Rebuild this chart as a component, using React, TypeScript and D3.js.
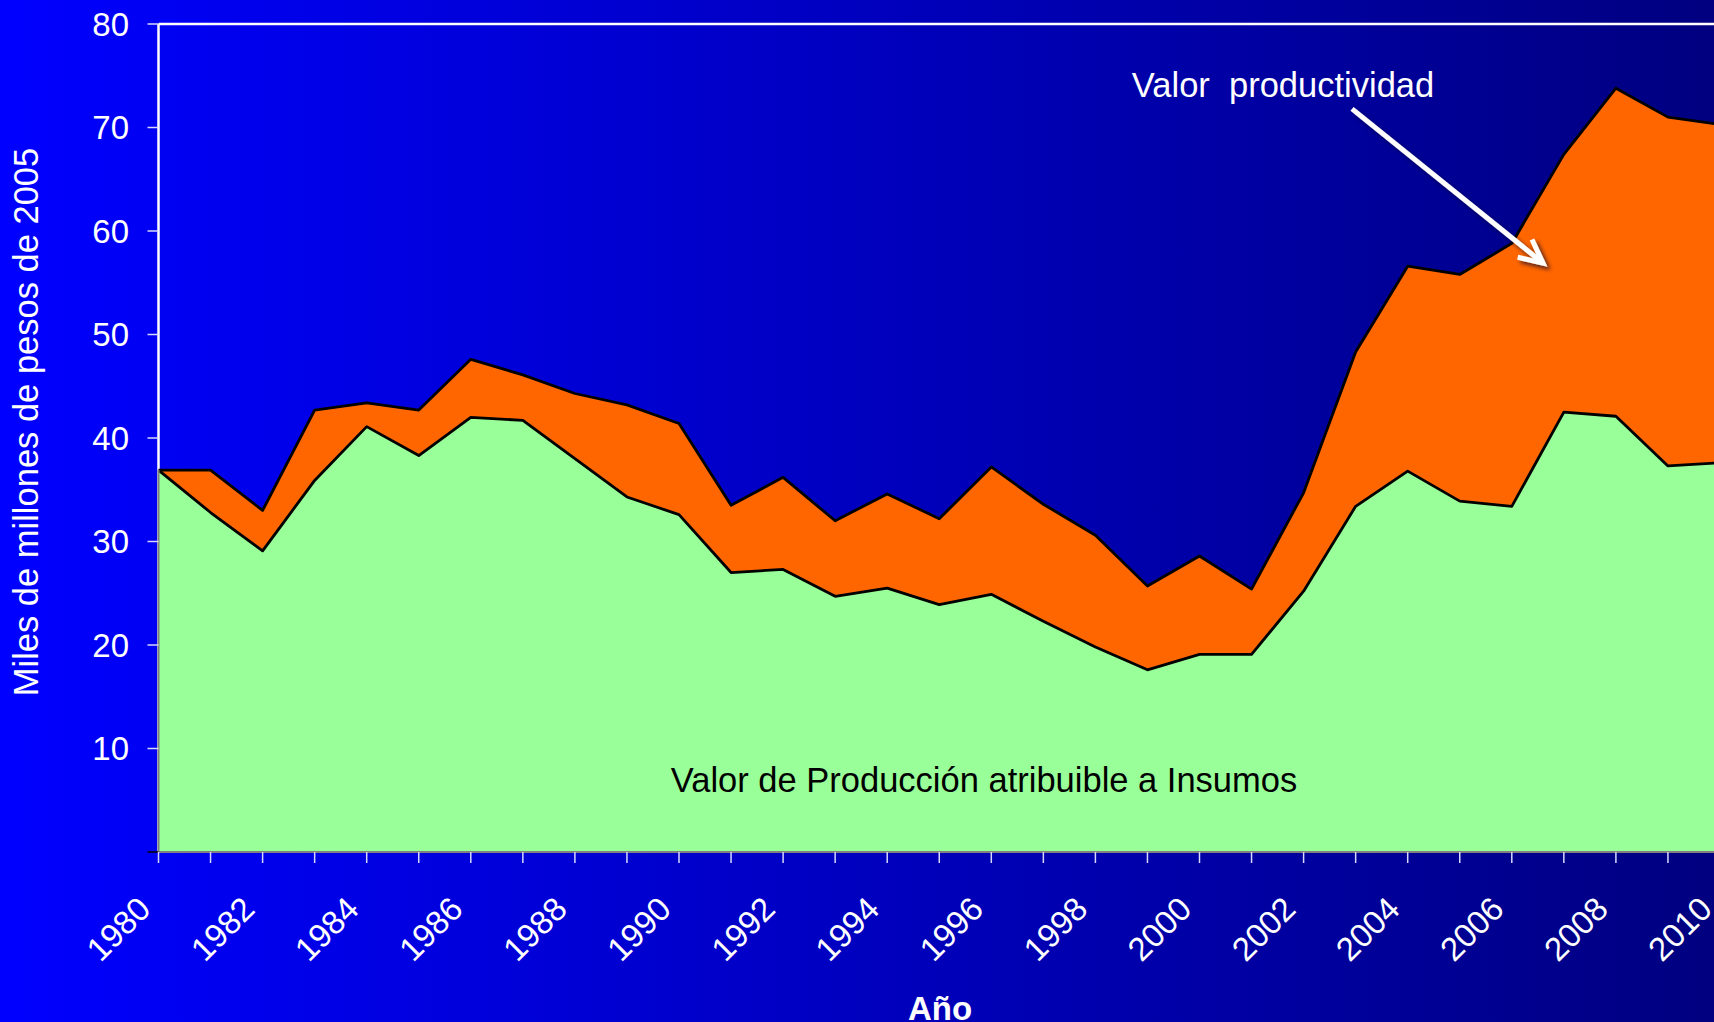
import React, { useEffect, useRef } from 'react';
import * as d3 from 'd3';

const years = [
  1980, 1981, 1982, 1983, 1984, 1985, 1986, 1987, 1988, 1989, 1990,
  1991, 1992, 1993, 1994, 1995, 1996, 1997, 1998, 1999, 2000,
  2001, 2002, 2003, 2004, 2005, 2006, 2007, 2008, 2009, 2010,
];

// Valor de producción atribuible a insumos (miles de millones)
const insumos = [
  36.9, 32.8, 29.1, 35.9, 41.1, 38.3, 42.0, 41.7, 38.0, 34.3, 32.6,
  27.0, 27.3, 24.7, 25.5, 23.9, 24.9, 22.3, 19.8, 17.6, 19.1,
  19.1, 25.2, 33.4, 36.8, 33.9, 33.4, 42.5, 42.1, 37.3, 37.6,
];

// Valor productividad (banda naranja, encima de insumos)
const productividad = [
  0.0, 4.1, 3.9, 6.8, 2.3, 4.4, 5.6, 4.4, 6.3, 8.9, 8.8,
  6.5, 8.9, 7.3, 9.1, 8.3, 12.3, 11.3, 10.8, 8.1, 9.5,
  6.3, 9.5, 14.9, 19.8, 21.9, 25.4, 24.9, 31.7, 33.7, 32.7,
];

const yTicks = [10, 20, 30, 40, 50, 60, 70, 80];
const xLabels = [
  1980, 1982, 1984, 1986, 1988, 1990, 1992, 1994,
  1996, 1998, 2000, 2002, 2004, 2006, 2008, 2010,
];

const W = 1714;
const H = 1022;
const FONT = '"Liberation Sans", Arial, sans-serif';

const App: React.FC = () => {
  const svgRef = useRef<SVGSVGElement>(null);

  useEffect(() => {
    if (!svgRef.current) return;
    const root = d3.select(svgRef.current);
    root.selectAll('*').remove();
    root.attr('width', W).attr('height', H);

    // fondo degradado azul
    const defs = root.append('defs');
    const grad = defs
      .append('linearGradient')
      .attr('id', 'bg')
      .attr('x1', '0%')
      .attr('x2', '100%')
      .attr('y1', '0%')
      .attr('y2', '0%');
    grad.append('stop').attr('offset', '0%').attr('stop-color', '#0000ff');
    grad.append('stop').attr('offset', '100%').attr('stop-color', '#000080');

    const shadow = defs.append('filter').attr('id', 'shadow').attr('x', '-20%').attr('y', '-20%').attr('width', '140%').attr('height', '140%');
    shadow
      .append('feDropShadow')
      .attr('dx', 3)
      .attr('dy', 3)
      .attr('stdDeviation', 2)
      .attr('flood-color', '#000030')
      .attr('flood-opacity', 0.7);

    root.append('rect').attr('width', W).attr('height', H).attr('fill', 'url(#bg)');

    const x = d3.scaleLinear().domain([1980, 2010]).range([158.5, 1720]);
    const y = d3.scaleLinear().domain([0, 80]).range([852, 24]);

    const rows = years.map((yr, i) => ({ year: yr, insumos: insumos[i], productividad: productividad[i] }));
    const series = d3.stack<any>().keys(['insumos', 'productividad'])(rows);
    const colors = ['#99ff99', '#ff6600'];

    // eje izquierdo blanco (queda debajo de las áreas)
    root
      .append('line')
      .attr('x1', x(1980))
      .attr('x2', x(1980))
      .attr('y1', y(80))
      .attr('y2', y(0))
      .attr('stroke', '#ffffff')
      .attr('stroke-width', 2.5);

    // borde superior
    root
      .append('line')
      .attr('x1', x(1980))
      .attr('x2', W)
      .attr('y1', y(80))
      .attr('y2', y(80))
      .attr('stroke', '#ffffff')
      .attr('stroke-width', 2.5);

    const area = d3
      .area<any>()
      .x((d) => x(d.data.year))
      .y0((d) => y(d[0]))
      .y1((d) => y(d[1]));

    root
      .selectAll('.band')
      .data(series)
      .enter()
      .append('path')
      .attr('class', 'band')
      .attr('d', area as any)
      .attr('fill', (_d, i) => colors[i]);

    const topLine = d3
      .line<any>()
      .x((d) => x(d.data.year))
      .y((d) => y(d[1]));

    root
      .selectAll('.edge')
      .data(series)
      .enter()
      .append('path')
      .attr('class', 'edge')
      .attr('d', topLine as any)
      .attr('fill', 'none')
      .attr('stroke', '#000000')
      .attr('stroke-width', 2.8)
      .attr('stroke-linejoin', 'round');

    // borde gris bajo el área verde
    root
      .append('line')
      .attr('x1', x(1980))
      .attr('x2', x(1980))
      .attr('y1', y(insumos[0]))
      .attr('y2', y(0))
      .attr('stroke', '#808080')
      .attr('stroke-width', 2);
    root
      .append('line')
      .attr('x1', x(1980))
      .attr('x2', W)
      .attr('y1', y(0))
      .attr('y2', y(0))
      .attr('stroke', '#808080')
      .attr('stroke-width', 2);

    // ticks eje Y
    const yAxis = root.append('g');
    yAxis
      .selectAll('line')
      .data([0, ...yTicks])
      .enter()
      .append('line')
      .attr('x1', x(1980) - 11)
      .attr('x2', x(1980))
      .attr('y1', (d) => y(d))
      .attr('y2', (d) => y(d))
      .attr('stroke', (d) => (d === 0 ? '#000000' : '#d8d8ff'))
      .attr('stroke-width', 1.5);
    yAxis
      .selectAll('text')
      .data(yTicks)
      .enter()
      .append('text')
      .attr('x', 129)
      .attr('y', (d) => y(d))
      .attr('dy', '0.36em')
      .attr('text-anchor', 'end')
      .attr('fill', '#ffffff')
      .style('font-family', FONT)
      .style('font-size', '33px')
      .text((d) => d);

    // ticks eje X
    const xAxis = root.append('g');
    xAxis
      .selectAll('line')
      .data(years)
      .enter()
      .append('line')
      .attr('x1', (d) => x(d))
      .attr('x2', (d) => x(d))
      .attr('y1', y(0))
      .attr('y2', y(0) + 11)
      .attr('stroke', '#d8d8ff')
      .attr('stroke-width', 1.5);
    xAxis
      .selectAll('text')
      .data(xLabels)
      .enter()
      .append('text')
      .attr('transform', (d) => `translate(${x(d) - 6},911) rotate(-45)`)
      .attr('text-anchor', 'end')
      .attr('fill', '#ffffff')
      .style('font-family', FONT)
      .style('font-size', '33px')
      .text((d) => d);

    // títulos de ejes
    root
      .append('text')
      .attr('transform', 'translate(38,422) rotate(-90)')
      .attr('text-anchor', 'middle')
      .attr('fill', '#ffffff')
      .style('font-family', FONT)
      .style('font-size', '34.5px')
      .text('Miles de millones de pesos de 2005');

    root
      .append('text')
      .attr('x', 940)
      .attr('y', 1020)
      .attr('text-anchor', 'middle')
      .attr('fill', '#ffffff')
      .style('font-family', FONT)
      .style('font-size', '33px')
      .style('font-weight', 'bold')
      .text('Año');

    // anotaciones
    root
      .append('text')
      .attr('x', x(1995.86))
      .attr('y', y(5.8))
      .attr('text-anchor', 'middle')
      .attr('fill', '#000000')
      .style('font-family', FONT)
      .style('font-size', '34.5px')
      .text('Valor de Producción atribuible a Insumos');

    root
      .append('text')
      .attr('x', x(1998.7))
      .attr('y', y(72.9))
      .attr('fill', '#ffffff')
      .style('font-family', FONT)
      .style('font-size', '34.5px')
      .style('white-space', 'pre')
      .text('Valor  productividad');

    // flecha
    const x0 = x(2002.93);
    const y0 = y(71.8);
    const x1 = x(2006.6);
    const y1 = y(56.9);
    const ang = Math.atan2(y1 - y0, x1 - x0) + Math.PI;
    const head = 26;
    const spread = (26 * Math.PI) / 180;
    const arrow = root.append('g').attr('filter', 'url(#shadow)');
    arrow
      .append('line')
      .attr('x1', x0)
      .attr('y1', y0)
      .attr('x2', x1)
      .attr('y2', y1)
      .attr('stroke', '#ffffff')
      .attr('stroke-width', 5);
    arrow
      .append('polyline')
      .attr(
        'points',
        [
          [x1 + head * Math.cos(ang - spread), y1 + head * Math.sin(ang - spread)],
          [x1, y1],
          [x1 + head * Math.cos(ang + spread), y1 + head * Math.sin(ang + spread)],
        ]
          .map((p) => p.join(','))
          .join(' ')
      )
      .attr('fill', 'none')
      .attr('stroke', '#ffffff')
      .attr('stroke-width', 5)
      .attr('stroke-linejoin', 'miter');
  }, []);

  return (
    <svg
      ref={svgRef}
      style={{ position: 'absolute', left: 0, top: 0, display: 'block' }}
    ></svg>
  );
};

export default App;
